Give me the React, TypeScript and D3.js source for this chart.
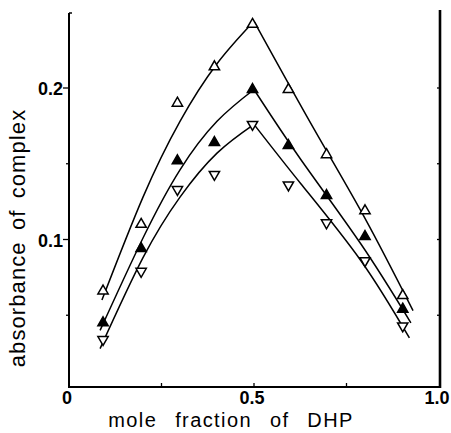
import React from "react";
import * as d3 from "d3";

// mole fraction of DHP where the points were measured
const molFraction = [0.092, 0.195, 0.293, 0.393, 0.496, 0.593, 0.696, 0.8, 0.902];

// absorbance of complex, three series
const openUp = [0.066, 0.110, 0.190, 0.214, 0.242, 0.199, 0.156, 0.119, 0.063];
const filledUp = [0.045, 0.094, 0.152, 0.164, 0.199, 0.162, 0.129, 0.102, 0.054];
const openDown = [0.034, 0.079, 0.133, 0.143, 0.176, 0.136, 0.111, 0.086, 0.043];

// fitted curves, rising part and falling part (x, absorbance)
const topRise: [number, number][] = [[0.089, 0.060], [0.2, 0.128], [0.3, 0.178], [0.4, 0.216], [0.5, 0.244]];
const topFall: [number, number][] = [[0.5, 0.244], [0.662, 0.173], [0.8, 0.114], [0.93, 0.053]];
const midRise: [number, number][] = [[0.084, 0.040], [0.2, 0.101], [0.3, 0.146], [0.4, 0.178], [0.5, 0.199]];
const midFall: [number, number][] = [[0.5, 0.199], [0.626, 0.153], [0.789, 0.097], [0.924, 0.045]];
const lowRise: [number, number][] = [[0.084, 0.028], [0.2, 0.088], [0.3, 0.128], [0.4, 0.157], [0.5, 0.176]];
const lowFall: [number, number][] = [[0.5, 0.176], [0.626, 0.137], [0.789, 0.086], [0.92, 0.035]];

const xTickLabels = ["0", "0.5", "1.0"];
const xTickValues = [0, 0.5, 1];
const xMinorTicks = [0.25, 0.5, 0.75];
const yTickLabels = ["0.1", "0.2"];
const yTickValues = [0.1, 0.2];
const yAllTicks = [0.05, 0.1, 0.15, 0.2];

const FONT = "'Liberation Sans', Arial, Helvetica, sans-serif";

const App = () => {
  const width = 451;
  const height = 433;
  const left = 69;
  const right = 440;
  const top = 13;
  const bottom = 387;

  const xScale = d3.scaleLinear().domain([0, 1]).range([69, 439]);
  const yScale = d3.scaleLinear().domain([0, 0.2]).range([391, 88]);

  const line = d3.line<[number, number]>()
    .x(d => xScale(d[0]))
    .y(d => yScale(d[1]))
    .curve(d3.curveNatural);

  const tri = d3.symbol().type(d3.symbolTriangle).size(46)() as string;

  const curves = [topRise, topFall, midRise, midFall, lowRise, lowFall];

  return (
    <svg width={width} height={height} style={{ position: "absolute", left: 0, top: 0, background: "#fff" }}>
      <rect x={0} y={0} width={width} height={height} fill="#fff" />

      {/* axes */}
      <line x1={left} y1={top} x2={left} y2={bottom + 1} stroke="#000" strokeWidth={2} />
      <line x1={left} y1={top} x2={left + 3} y2={top} stroke="#000" strokeWidth={1.5} />
      <line x1={left - 1} y1={bottom} x2={right + 1} y2={bottom} stroke="#000" strokeWidth={2.2} />
      <line x1={right} y1={10} x2={right} y2={bottom + 1} stroke="#000" strokeWidth={2.6} />

      {xMinorTicks.map((v, i) => (
        <line key={"xt" + i} x1={xScale(v)} y1={bottom} x2={xScale(v)} y2={bottom - 4} stroke="#000" strokeWidth={1.3} />
      ))}
      {yAllTicks.map((v, i) => {
        const major = yTickValues.includes(v);
        return (
          <g key={"yt" + i}>
            <line x1={left} y1={yScale(v)} x2={left - (major ? 6 : 3)} y2={yScale(v)} stroke="#000" strokeWidth={1.3} />
            <line x1={right} y1={yScale(v)} x2={right - 3} y2={yScale(v)} stroke="#000" strokeWidth={1.3} />
          </g>
        );
      })}

      {/* tick labels */}
      {xTickLabels.map((t, i) => (
        <text key={"xl" + i} x={xScale(xTickValues[i]) - 2} y={404} textAnchor="middle"
          fontFamily={FONT} fontWeight="bold" fontSize={18}>{t}</text>
      ))}
      {yTickLabels.map((t, i) => (
        <text key={"yl" + i} x={63} y={yScale(yTickValues[i]) + 7} textAnchor="end"
          fontFamily={FONT} fontWeight="bold" fontSize={18}>{t}</text>
      ))}

      {/* axis titles */}
      <text x={231} y={427} textAnchor="middle" fontFamily={FONT} fontSize={20}
        letterSpacing={1.4} wordSpacing={11}>mole fraction of DHP</text>
      <text transform="translate(25,238) rotate(-90)" textAnchor="middle" fontFamily={FONT} fontSize={22}
        letterSpacing={1.1} wordSpacing={4}>absorbance of complex</text>

      {/* fitted curves */}
      {curves.map((c, i) => (
        <path key={"c" + i} d={line(c) || ""} fill="none" stroke="#000" strokeWidth={1.5} />
      ))}

      {/* markers */}
      {openUp.map((v, i) => (
        <path key={"ou" + i} d={tri} transform={`translate(${xScale(molFraction[i])},${yScale(v)})`}
          fill="#fff" stroke="#000" strokeWidth={1.5} />
      ))}
      {filledUp.map((v, i) => (
        <path key={"fu" + i} d={tri} transform={`translate(${xScale(molFraction[i])},${yScale(v)})`}
          fill="#000" stroke="#000" strokeWidth={1.5} />
      ))}
      {openDown.map((v, i) => (
        <path key={"od" + i} d={tri} transform={`translate(${xScale(molFraction[i])},${yScale(v)}) rotate(180)`}
          fill="#fff" stroke="#000" strokeWidth={1.5} />
      ))}
    </svg>
  );
};

export default App;
